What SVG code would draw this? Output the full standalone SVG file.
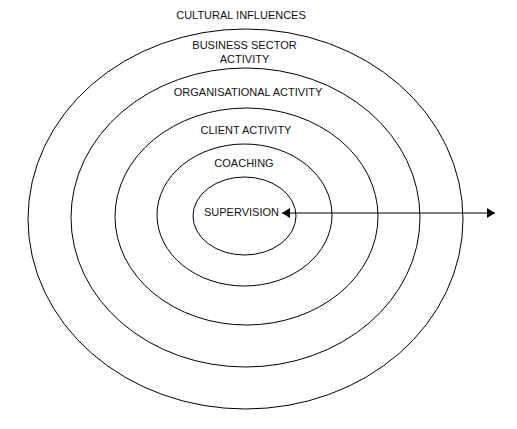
<svg xmlns="http://www.w3.org/2000/svg" width="517" height="429" viewBox="0 0 517 429">
<style>
.ring{fill:none;stroke:#000;stroke-width:1}
.lbl{font-family:"Liberation Sans",Arial,sans-serif;font-size:11px;fill:#111;text-anchor:middle}
</style>
<defs>
<marker id="ah" viewBox="0 0 8 10" refX="8" refY="5" markerWidth="8" markerHeight="10" markerUnits="userSpaceOnUse" orient="auto-start-reverse">
<path d="M0,0 L8,5 L0,10 Z" fill="#000"/>
</marker>
</defs>
<rect width="517" height="429" fill="#fff"/>
<g id="business">
<ellipse class="ring" cx="245.5" cy="219" rx="217.5" ry="190"/>
<text class="lbl" x="244.5" y="49">BUSINESS SECTOR</text>
<text class="lbl" x="244.5" y="63">ACTIVITY</text>
</g>
<g id="organisational">
<ellipse class="ring" cx="245.5" cy="217.5" rx="174.5" ry="149.5"/>
<text class="lbl" x="248" y="96">ORGANISATIONAL ACTIVITY</text>
</g>
<g id="client">
<ellipse class="ring" cx="246.5" cy="216.5" rx="131.5" ry="108.5"/>
<text class="lbl" x="246" y="134">CLIENT ACTIVITY</text>
</g>
<g id="coaching">
<ellipse class="ring" cx="244.5" cy="215" rx="87.5" ry="71"/>
<text class="lbl" x="244" y="167">COACHING</text>
</g>
<g id="supervision">
<ellipse class="ring" cx="244.5" cy="216" rx="51.5" ry="39"/>
<text class="lbl" x="241.5" y="216">SUPERVISION</text>
</g>
<g id="cultural">
<text class="lbl" x="241" y="19">CULTURAL INFLUENCES</text>
</g>
<g id="connectors">
<line x1="282" y1="213" x2="495" y2="213" stroke="#000" stroke-width="1.2" marker-start="url(#ah)" marker-end="url(#ah)"/>
</g>
</svg>
